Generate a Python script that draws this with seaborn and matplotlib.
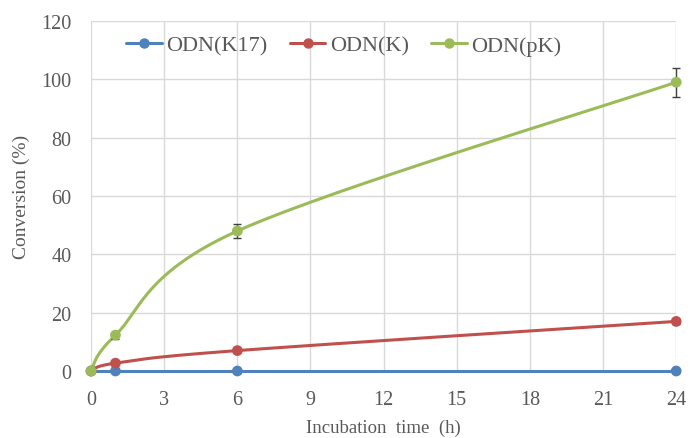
import numpy as np
import pandas as pd
import seaborn as sns
import matplotlib
matplotlib.use("Agg")
import matplotlib.pyplot as plt
from matplotlib.lines import Line2D

# Sampling times (h) and conversion (%) for each oligonucleotide
time_h = [0, 1, 6, 24]
series_names = ["ODN(K17)", "ODN(K)", "ODN(pK)"]
conv_k17 = [0.0, 0.0, 0.0, 0.0]
conv_k = [0.0, 2.7, 7.0, 17.0]
conv_pk = [0.0, 12.3, 48.0, 99.0]
err_k17 = [0.0, 0.0, 0.6, 0.0]
err_k = [0.0, 0.8, 0.6, 0.9]
err_pk = [0.0, 1.2, 2.3, 5.0]

x_ticks = [0, 3, 6, 9, 12, 15, 18, 21, 24]
y_ticks = [0, 20, 40, 60, 80, 100, 120]

colors = ["#4F81BD", "#C0504D", "#9BBB59"]
text_color = "#595959"
grid_color = "#D9D9D9"

sns.set_theme(style="white")
plt.rcParams["font.family"] = ["Liberation Serif", "DejaVu Serif"]

df = pd.DataFrame({
    "time": time_h * 3,
    "conversion": conv_k17 + conv_k + conv_pk,
    "error": err_k17 + err_k + err_pk,
    "series": sum([[n] * len(time_h) for n in series_names], []),
})

fig = plt.figure(figsize=(6.9, 4.39), dpi=100)
ax = fig.add_axes([0.132, 0.1526, 0.848, 0.7974])

XMAX, YMAX = 24.0, 120.0
W_PX, H_PX = 585.0, 350.0


def smooth_curve(xs, ys, n=80):
    """Bezier smoothing through the points (Catmull-Rom control points),
    computed in screen-proportional units."""
    px = np.asarray(xs, float) / XMAX * W_PX
    py = np.asarray(ys, float) / YMAX * H_PX
    P = np.column_stack([px, py])
    out = []
    m = len(P)
    for i in range(m - 1):
        p0 = P[i - 1] if i > 0 else P[i]
        p1 = P[i]
        p2 = P[i + 1]
        p3 = P[i + 2] if i + 2 < m else P[i + 1]
        c1 = p1 + (p2 - p0) / 6.0
        c2 = p2 - (p3 - p1) / 6.0
        t = np.linspace(0, 1, n)[:, None]
        seg = ((1 - t) ** 3) * p1 + 3 * ((1 - t) ** 2) * t * c1 \
            + 3 * (1 - t) * t ** 2 * c2 + t ** 3 * p2
        out.append(seg if i == 0 else seg[1:])
    out = np.vstack(out)
    return out[:, 0] / W_PX * XMAX, out[:, 1] / H_PX * YMAX


for name, color in zip(series_names, colors):
    sub = df[df["series"] == name]
    sx, sy = smooth_curve(sub["time"], sub["conversion"])
    ax.plot(sx, sy, color=color, lw=2.2, solid_capstyle="round",
            zorder=3, clip_on=False)
    ax.errorbar(sub["time"], sub["conversion"], yerr=sub["error"],
                fmt="none", ecolor="#404040", elinewidth=1.0,
                capsize=3, capthick=1.0, zorder=4, clip_on=False)

sns.scatterplot(data=df, x="time", y="conversion", hue="series",
                palette=colors, hue_order=series_names, s=60,
                edgecolor="none", legend=False, ax=ax, zorder=5,
                clip_on=False)

ax.set_xlim(0, 24)
ax.set_ylim(0, 120)
ax.set_xticks(x_ticks)
ax.set_yticks(y_ticks)
ax.grid(True, color=grid_color, lw=1.0)
ax.set_axisbelow(True)
for side in ["left", "right", "top", "bottom"]:
    ax.spines[side].set_visible(False)
ax.axhline(0, color=grid_color, lw=1.0, zorder=1, clip_on=False)

ax.tick_params(axis="both", length=0, labelsize=14.5, colors=text_color,
               pad=14)
ax.set_xlabel("Incubation  time  (h)", fontsize=13.5, color=text_color,
              labelpad=7)
ax.set_ylabel("Conversion (%)", fontsize=14, color=text_color, labelpad=8)

handles = [Line2D([0], [0], color=c, lw=2.2, marker="o", markersize=6.5)
           for c in colors]
leg = ax.legend(handles, series_names, loc="center", ncol=3,
                bbox_to_anchor=(0.432, 0.93), frameon=False, fontsize=16,
                handlelength=1.6, handletextpad=0.2, columnspacing=1.0,
                borderpad=0.0)
for t in leg.get_texts():
    t.set_color(text_color)

fig.savefig("out.png", dpi=100)
